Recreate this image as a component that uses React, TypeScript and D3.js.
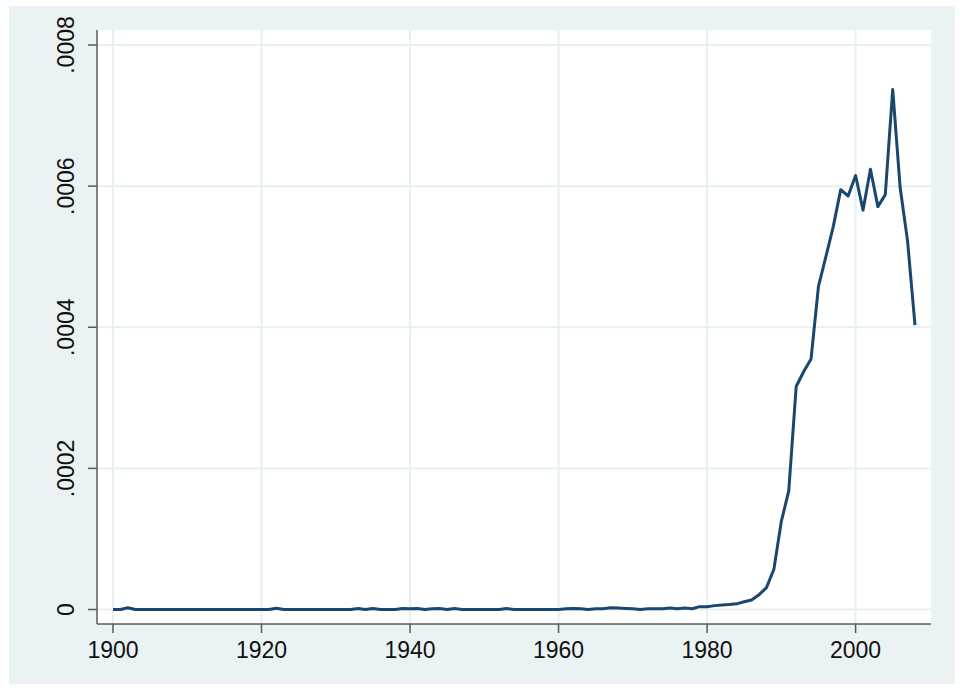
import React, { useEffect, useRef } from 'react'
import * as d3 from 'd3'

// yearly share, 1900-2008
const years: number[] = d3.range(1900, 2009)
const values: number[] = [
  0, 0, 0.0000025, 0, 0, 0, 0, 0, 0, 0, // 1900s
  0, 0, 0, 0, 0, 0, 0, 0, 0, 0, // 1910s
  0, 0, 0.0000018, 0, 0, 0, 0, 0, 0, 0, // 1920s
  0, 0, 0, 0.0000015, 0, 0.0000015, 0, 0, 0, 0.0000015, // 1930s
  0.000001, 0.0000015, 0, 0.000001, 0.0000015, 0, 0.0000015, 0, 0, 0, // 1940s
  0, 0, 0, 0.0000015, 0, 0, 0, 0, 0, 0, // 1950s
  0, 0.000001, 0.0000015, 0.000001, 0, 0.000001, 0.000001, 0.0000025, 0.000002, 0.0000015, // 1960s
  0.000001, 0, 0.000001, 0.000001, 0.000001, 0.000002, 0.000001, 0.000002, 0.000001, 0.000004, // 1970s
  0.000004, 0.0000055, 0.0000065, 0.000007, 0.000008, 0.000011, 0.0000135, 0.000021, 0.000031, 0.000057, // 1980s
  0.000125, 0.000168, 0.000316, 0.000337, 0.000355, 0.000458, 0.0005, 0.000543, 0.000595, 0.000586, // 1990s
  0.000615, 0.000566, 0.000624, 0.000571, 0.000588, 0.000737, 0.000598, 0.000522, 0.000403, // 2000s
]
const xTicks: number[] = [1900, 1920, 1940, 1960, 1980, 2000]
const yTicks: number[] = [0, 0.0002, 0.0004, 0.0006, 0.0008]
const yTickLabels: string[] = ['0', '.0002', '.0004', '.0006', '.0008']

const W = 960
const H = 688
const outer = { left: 9, top: 6, right: 955, bottom: 684 }
const plot = { left: 97, top: 30, right: 931, bottom: 624 }
const pad = 16

const BG = '#EAF2F3'
const GRID = '#E6EFF2'
const LINE = '#1A476F'
const AXIS = '#5a5a5a'
const FONT = '"Liberation Sans", Arial, Helvetica, sans-serif'

export default function App() {
  const svgRef = useRef<SVGSVGElement>(null)

  useEffect(() => {
    const svg = d3.select(svgRef.current)
    svg.selectAll('*').remove()

    const x = d3.scaleLinear()
      .domain([1900, 2008])
      .range([plot.left + pad, plot.right - pad])
    const y = d3.scaleLinear()
      .domain([0, 0.0008])
      .range([plot.bottom - 14.5, plot.top + 15])

    // outer background
    svg.append('rect')
      .attr('x', outer.left).attr('y', outer.top)
      .attr('width', outer.right - outer.left).attr('height', outer.bottom - outer.top)
      .attr('fill', BG)

    // plot region
    svg.append('rect')
      .attr('x', plot.left).attr('y', plot.top)
      .attr('width', plot.right - plot.left).attr('height', plot.bottom - plot.top)
      .attr('fill', '#fff')

    // grid
    svg.append('g').selectAll('line').data(yTicks).join('line')
      .attr('x1', plot.left).attr('x2', plot.right)
      .attr('y1', d => y(d)).attr('y2', d => y(d))
      .attr('stroke', GRID).attr('stroke-width', 2)
    svg.append('g').selectAll('line').data(xTicks).join('line')
      .attr('x1', d => x(d)).attr('x2', d => x(d))
      .attr('y1', plot.top).attr('y2', plot.bottom)
      .attr('stroke', GRID).attr('stroke-width', 2)

    // the series
    const pts = years.map((yr, i) => [yr, values[i]] as [number, number])
    svg.append('path')
      .datum(pts)
      .attr('fill', 'none')
      .attr('stroke', LINE)
      .attr('stroke-width', 3)
      .attr('stroke-linejoin', 'round')
      .attr('d', d3.line<[number, number]>().x(d => x(d[0])).y(d => y(d[1])))

    // axes
    svg.append('line')
      .attr('x1', plot.left).attr('x2', plot.left)
      .attr('y1', plot.top).attr('y2', plot.bottom)
      .attr('stroke', AXIS).attr('stroke-width', 1.5)
    svg.append('line')
      .attr('x1', plot.left).attr('x2', plot.right)
      .attr('y1', plot.bottom).attr('y2', plot.bottom)
      .attr('stroke', AXIS).attr('stroke-width', 1.5)

    // y ticks + rotated labels
    const yg = svg.append('g')
    yg.selectAll('line').data(yTicks).join('line')
      .attr('x1', plot.left - 9).attr('x2', plot.left)
      .attr('y1', d => y(d)).attr('y2', d => y(d))
      .attr('stroke', AXIS).attr('stroke-width', 1.5)
    yg.selectAll('text').data(yTicks).join('text')
      .attr('transform', d => `translate(74,${y(d)}) rotate(-90)`)
      .attr('text-anchor', 'middle')
      .attr('font-family', FONT)
      .attr('font-size', 23)
      .attr('fill', '#111')
      .text((d, i) => yTickLabels[i])

    // x ticks + labels
    const xg = svg.append('g')
    xg.selectAll('line').data(xTicks).join('line')
      .attr('x1', d => x(d)).attr('x2', d => x(d))
      .attr('y1', plot.bottom).attr('y2', plot.bottom + 9)
      .attr('stroke', AXIS).attr('stroke-width', 1.5)
    xg.selectAll('text').data(xTicks).join('text')
      .attr('x', d => x(d))
      .attr('y', 658)
      .attr('text-anchor', 'middle')
      .attr('font-family', FONT)
      .attr('font-size', 23)
      .attr('fill', '#111')
      .text(d => String(d))
  }, [])

  return (
    <svg
      ref={svgRef}
      width={W}
      height={H}
      style={{ position: 'absolute', left: 0, top: 0, display: 'block', background: '#fff' }}
    />
  )
}
